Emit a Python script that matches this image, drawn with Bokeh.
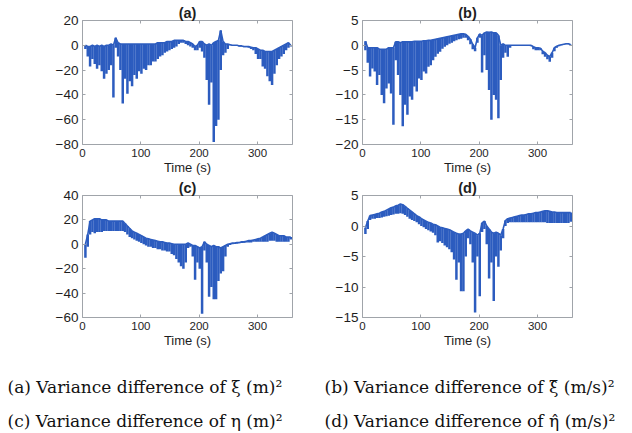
from bokeh.plotting import figure
from bokeh.layouts import column, row
from bokeh.models import FixedTicker, LinearAxis, Range1d, Label, ColumnDataSource, CustomJSTickFormatter
from bokeh.embed import file_html
from bokeh.resources import INLINE

# time stamps of the samples (s)
t = [5, 9, 13, 17, 21, 25, 29, 33, 37, 41, 45, 49, 53, 57, 61, 65, 69, 73, 77, 81,
     85, 89, 93, 97, 101, 105, 109, 113, 117, 121, 125, 129, 133, 137, 141, 145, 149,
     153, 157, 161, 165, 169, 173, 177, 181, 185, 189, 193, 197, 201, 205, 209, 213,
     217, 221, 225, 229, 233, 237, 241, 245, 249, 253, 257, 261, 265, 269, 273, 277,
     281, 285, 289, 293, 297, 301, 305, 309, 313, 317, 321, 325, 329, 333, 337, 341,
     345, 349, 353, 357]

# (a) variance difference of xi : upper envelope / spike minimum
a_hi = [0, -1, -1, 0, -1, 0, -1, 0, -1, 0, 0, 1, 0, 6, 2, 1, 1, 1, 1, 1,
        1, 1, 1, 1, 1, 1, 1, 1, 1, 1, 1, 2, 2, 2, 2, 3, 3,
        3, 4, 4, 4, 4, 4, 3, 3, 2, 1, -1, 0, 3, 3, 1, 0,
        1, 0, 2, 3, 4, 12, 3, 1, 1, 0.5, 0, 0, 0, -0.5, -0.5, -1,
        -1, -1, -1.5, -2, -2, -3, -4, -4, -5, -5, -5, -5, -4, -3, -2, -1,
        0, 1, 2, 0]
a_lo = [-3, -9, -17, -11, -15, -19, -16, -21, -27, -23, -20, -16, -42, -2, -9, -20, -47, -27, -39, -29,
        -33, -24, -27, -21, -23, -19, -20, -16, -16, -13, -13, -11, -9, -8, -6, -5, -4,
        -3, -2, -1, 1, 2, 2, 1, 0, -1, -2, -4, -4, -2, -5, -10, -28,
        -48, -30, -78, -65, -60, -20, -8, -6, -3, 0, -0.5, -0.5, -0.5, -1, -1, -1.5,
        -1.5, -2, -3, -4, -7, -11, -11, -17, -19, -25, -29, -32, -23, -16, -11, -9,
        -7, -4, -2, -1]

# (b) variance difference of xi-hat
b_hi = [0.8, -0.5, -0.5, -0.5, -0.5, -0.5, -0.8, -0.8, -0.8, -0.8, -0.5, -0.5, -0.5, 0.7, 0.7, 0.5, 0.7, 0.7, 0.7, 0.7,
        0.7, 0.8, 0.8, 0.8, 0.8, 0.9, 0.9, 1.0, 1.0, 1.1, 1.2, 1.3, 1.4, 1.5, 1.6, 1.7, 1.8,
        1.9, 2.0, 2.1, 2.2, 2.3, 2.3, 2.2, 1.8, 1.2, 0.2, -0.5, 1.5, 2.3, 2.0, 2.5, 2.7,
        2.6, 2.7, 2.5, 2.5, 2.0, 0, 0.3, 0, 0, 0, 0, 0, 0, 0, 0, 0,
        0, 0, 0, -0.3, -0.5, -0.5, -0.6, -1.2, -1.5, -2.0, -2.3, -1.5, -0.5, -0.2, 0, 0.1,
        0.2, 0.3, 0.3, 0.1]
b_lo = [-1, -3.5, -6.3, -4.7, -5.3, -8, -6, -10, -11.7, -8.7, -7.7, -9.7, -16, -3, -6, -10, -16.3, -12, -14, -10.3,
        -11, -8.3, -9.3, -6.7, -7, -5.3, -5.7, -4.3, -4, -3, -2.3, -1.7, -1.3, -0.7, -0.3, 0, 0.3,
        0.5, 0.8, 1, 1.2, 1.3, 1.5, 1.5, 1.0, 0.2, -0.8, -1.2, 0.5, 1.5, -5.5, -2, -5,
        -9, -15, -10, -11, -14.7, -7, -2.5, -1.5, -2.3, -0.5, 0, 0, 0, 0, 0, 0,
        0, -0.1, -0.2, -0.8, -1, -1, -1, -1.8, -2.3, -2.8, -3.3, -2.5, -1.2, -0.5, -0.2, 0,
        0.1, 0.2, 0.2, 0]

# (c) variance difference of eta
c_hi = [0, 8, 19, 20, 21, 21, 21, 20, 20, 20, 19, 19, 19, 19, 19, 19, 19, 17, 15, 13,
        11, 10, 9, 8, 7, 6, 5, 4.5, 4, 3.5, 3, 2.5, 2, 2, 1.5, 1, 1,
        0.5, 0, 0, 0, 0, 0, 0, 1, 0, -1, -1, -2, -3, -2, 2, 0,
        -1, -2, -1, -2, -2, -3, -2, -1, 0, 0.5, 1, 1, 1.5, 1.5, 2, 2,
        2.5, 3, 3, 3.5, 4, 4.5, 5, 6, 7, 8, 9, 10, 9, 8, 7, 7,
        7, 6, 6, 6]
c_lo = [-11, -2, 8, 10, 9, 10, 10, 10, 11, 11, 11, 11, 11, 11, 11, 11, 11, 10, 8, 6,
        5, 4, 3, 2, 1, 0, -1, -2, -2, -3, -3, -4, -4, -5, -5, -6, -6,
        -8, -9, -12, -15, -18, -20, -15, -3, -2, -10, -29, -15, -20, -57, -5, -15,
        -43, -35, -45, -45, -30, -24, -22, -10, -2, -0.5, 0, 0.3, 0.5, 0.8, 1, 1.2,
        1.5, 1.5, 1.5, 2, 2, 2, 2, 2, 2, 2, 3, 3, 3, 2, 2, 2,
        2, 2, 2, 4]

# (d) variance difference of eta-hat
d_hi = [-0.3, 0.8, 1.7, 1.8, 1.9, 2.0, 2.1, 2.3, 2.4, 2.6, 2.8, 3.0, 3.1, 3.3, 3.4, 3.6, 3.5, 3.2, 2.9, 2.6,
        2.3, 2.0, 1.7, 1.5, 1.2, 1.0, 0.8, 0.6, 0.5, 0.3, 0.2, 0, -0.2, -0.3, -0.4, -0.5, -0.6,
        -0.8, -1.0, -1.2, -1.3, -1.3, -1.2, -0.8, -0.5, -0.8, -1.0, -1.2, -1.5, -1.2, 0.5, 0.8, 0,
        -0.5, -1.0, -1.2, -1.0, -1.2, -1.5, -0.5, 0.9, 1.2, 1.3, 1.4, 1.5, 1.6, 1.7, 1.8, 1.8,
        1.9, 2.0, 2.0, 2.1, 2.2, 2.2, 2.3, 2.4, 2.5, 2.5, 2.4, 2.3, 2.3, 2.2, 2.2, 2.2,
        2.2, 2.2, 2.2, 2.2]
d_lo = [-1.3, -0.5, 1.0, 1.2, 1.2, 1.3, 1.3, 1.4, 1.5, 1.6, 1.7, 1.8, 1.9, 2.0, 2.0, 2.1, 2.0, 1.8, 1.5, 1.2,
        1.0, 0.8, 0.6, 0.3, 0, -0.2, -0.5, -0.7, -0.9, -1.1, -1.5, -2.7, -2.5, -2.8, -3.2, -3.5, -3.8,
        -4.3, -5.5, -8.8, -6, -10.7, -10.7, -5, -2, -3, -6, -14.2, -5, -11.5, -1, -0.5, -3,
        -8.6, -6, -12.3, -5, -6.7, -4, -2, 0, 0.5, 0.6, 0.6, 0.6, 0.6, 0.6, 0.6, 0.6,
        0.6, 0.6, 0.6, 0.6, 0.6, 0.6, 0.6, 0.6, 0.6, 0.5, 0.5, 0.5, 0.5, 0.5, 0.5, 0.5,
        0.5, 0.5, 0.5, 0.7]

x_ticks = [0, 100, 200, 300]
a_ticks = [-80, -60, -40, -20, 0, 20]
b_ticks = [-20, -15, -10, -5, 0, 5]
c_ticks = [-60, -40, -20, 0, 20, 40]
d_ticks = [-15, -10, -5, 0, 5]

captions = [
    "(a) Variance difference of \u03be (m)\u00b2",
    "(b) Variance difference of \u03be\u0302 (m/s)\u00b2",
    "(c) Variance difference of \u03b7 (m)\u00b2",
    "(d) Variance difference of \u03b7\u0302 (m/s)\u00b2",
]

BLUE = "#2c5cbf"
GRAY = "#a0a4aa"
TXT = "#1e1e1e"
SANS = "Liberation Sans"


def mirror_axis(ticks):
    return LinearAxis(ticker=FixedTicker(ticks=ticks),
                      formatter=CustomJSTickFormatter(code="return ''"),
                      major_label_text_font_size="1px", major_label_standoff=0,
                      axis_line_color=None, major_tick_in=3, major_tick_out=0,
                      major_tick_line_color=GRAY, minor_tick_line_color=None)


def panel(title, hi, lo, yr, yticks, left, right, top, height, bottom):
    p = figure(width=316, height=height, min_border_left=left, min_border_right=right,
               min_border_top=top, min_border_bottom=bottom,
               x_range=Range1d(0, 360), y_range=Range1d(*yr),
               output_backend="svg", toolbar_location=None, title=title)
    p.title.text_font = SANS
    p.title.text_font_size = "14.5px"
    p.title.text_font_style = "bold"
    p.title.align = "center"
    p.title.standoff = 0
    p.title.offset = 0
    p.title.text_color = TXT
    p.grid.visible = False
    p.outline_line_color = GRAY
    p.outline_line_alpha = 1
    p.background_fill_color = "white"
    p.border_fill_color = "white"

    src = ColumnDataSource(dict(t=t, hi=hi, lo=lo))
    p.segment(x0="t", y0="lo", x1="t", y1="hi", source=src, line_color=BLUE, line_width=2.5)
    p.line(x="t", y="hi", source=src, line_color=BLUE, line_width=1.6)

    xa = p.xaxis[0]
    xa.ticker = FixedTicker(ticks=x_ticks)
    xa.axis_label = "Time (s)"
    xa.axis_label_text_font = SANS
    xa.axis_label_text_font_size = "13px"
    xa.axis_label_text_font_style = "normal"
    xa.axis_label_text_color = TXT
    xa.axis_label_standoff = 0
    xa.major_label_text_font = SANS
    xa.major_label_text_font_size = "11.5px"
    xa.major_label_text_color = TXT
    xa.major_label_standoff = 4

    ya = p.yaxis[0]
    ya.ticker = FixedTicker(ticks=yticks)
    ya.major_label_text_font = SANS
    ya.major_label_text_font_size = "13.5px"
    ya.major_label_text_color = TXT
    ya.major_label_standoff = 4

    for ax in (xa, ya):
        ax.axis_line_color = None
        ax.major_tick_in = 3
        ax.major_tick_out = 0
        ax.major_tick_line_color = GRAY
        ax.minor_tick_line_color = None

    p.add_layout(mirror_axis(yticks), "right")
    p.add_layout(mirror_axis(x_ticks), "above")
    return p


pa = panel("(a)", a_hi, a_lo, (-80, 20), a_ticks, 82, 24, 20, 177, 32)
pb = panel("(b)", b_hi, b_lo, (-20, 5), b_ticks, 46, 60, 20, 177, 32)
pc = panel("(c)", c_hi, c_lo, (-60, 40), c_ticks, 82, 24, 16, 173, 33)
pd = panel("(d)", d_hi, d_lo, (-15, 5), d_ticks, 46, 60, 16, 173, 33)

cap = figure(width=632, height=83, x_range=Range1d(0, 632), y_range=Range1d(0, 83),
             min_border=0, output_backend="svg", toolbar_location=None)
cap.axis.visible = False
cap.grid.visible = False
cap.outline_line_color = None
for txt, x, y in zip(captions, [7, 324, 7, 324], [47, 47, 13, 13]):
    cap.add_layout(Label(x=x, y=y, x_units="screen", y_units="screen", text=txt,
                         text_font="DejaVu Serif", text_font_size="17px",
                         text_color="#111111", text_baseline="middle"))

layout = column(row(pa, pb, spacing=0), row(pc, pd, spacing=0), cap, spacing=0)

open("out.html", "w").write(file_html(layout, INLINE))
